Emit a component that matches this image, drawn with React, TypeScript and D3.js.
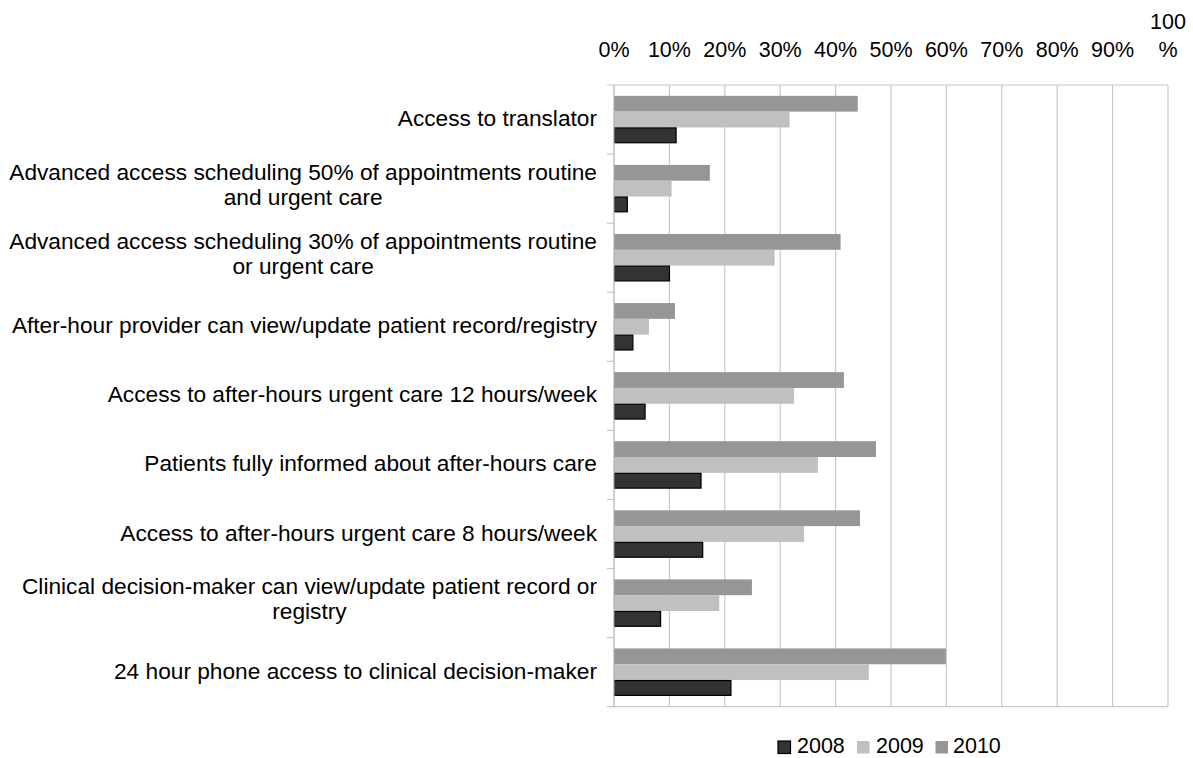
import React, { useEffect, useRef } from "react";
import * as d3 from "d3";

const categories = [
  "Access to translator",
  "Advanced access scheduling 50% of appointments routine and urgent care",
  "Advanced access scheduling 30% of appointments routine or urgent care",
  "After-hour provider can view/update patient record/registry",
  "Access to after-hours urgent care 12 hours/week",
  "Patients fully informed about after-hours care",
  "Access to after-hours urgent care 8 hours/week",
  "Clinical decision-maker can view/update patient record or registry",
  "24 hour phone access to clinical decision-maker",
];
const seriesNames = ["2008", "2009", "2010"];
const values2008 = [11.3, 2.5, 10.1, 3.5, 5.7, 15.8, 16.1, 8.5, 21.2];
const values2009 = [31.7, 10.4, 29.0, 6.3, 32.5, 36.8, 34.3, 19.0, 46.0];
const values2010 = [44.0, 17.3, 40.9, 11.0, 41.5, 47.3, 44.4, 24.9, 59.9];
const seriesColors = ["#333333", "#c0c0c0", "#969696"];
const tickValues = [0, 10, 20, 30, 40, 50, 60, 70, 80, 90, 100];
const tickLabels = ["0%", "10%", "20%", "30%", "40%", "50%", "60%", "70%", "80%", "90%", "100%"];

const W = 1193;
const H = 758;
const FONT = "'Liberation Sans', Arial, sans-serif";
const FS = 21.5;
const FS_CAT = 22.7;

export default function App() {
  const ref = useRef<SVGSVGElement | null>(null);

  useEffect(() => {
    const svg = d3.select(ref.current);
    svg.selectAll("*").remove();

    const left = 614, right = 1168, top = 85, bottom = 706.7;
    const x = d3.scaleLinear().domain([0, 100]).range([left, right]);
    const y = d3.scaleBand<string>().domain(categories).range([top, bottom]).paddingInner(0).paddingOuter(0);
    const order = ["2010", "2009", "2008"];
    const y1 = d3.scaleBand<string>().domain(order).range([0, y.bandwidth()]).paddingInner(0).paddingOuter(0.685);
    const valuesBySeries: Record<string, number[]> = { "2008": values2008, "2009": values2009, "2010": values2010 };

    const g = svg.append("g");

    // gridlines
    g.selectAll("line.grid")
      .data(tickValues.slice(1))
      .join("line")
      .attr("x1", (d) => x(d)).attr("x2", (d) => x(d))
      .attr("y1", top).attr("y2", bottom)
      .attr("stroke", "#c8c8c8").attr("stroke-width", 1.2);

    // top axis line & bottom line
    g.append("line").attr("x1", left - 7).attr("x2", right).attr("y1", top).attr("y2", top)
      .attr("stroke", "#c8c8c8").attr("stroke-width", 1.2);
    g.append("line").attr("x1", left - 7).attr("x2", right).attr("y1", bottom).attr("y2", bottom)
      .attr("stroke", "#c8c8c8").attr("stroke-width", 1.2);

    // category tick marks
    const boundaries = categories.map((c) => (y(c) as number)).slice(1);
    g.selectAll("line.ctick")
      .data(boundaries)
      .join("line")
      .attr("x1", left - 7).attr("x2", left)
      .attr("y1", (d) => d).attr("y2", (d) => d)
      .attr("stroke", "#c8c8c8").attr("stroke-width", 1.2);

    // bars
    categories.forEach((c, i) => {
      order.forEach((s) => {
        const v = valuesBySeries[s][i];
        const si = seriesNames.indexOf(s);
        const by = (y(c) as number) + (y1(s) as number);
        const r = g.append("rect")
          .attr("x", x(0))
          .attr("y", by)
          .attr("width", x(v) - x(0))
          .attr("height", y1.bandwidth())
          .attr("fill", seriesColors[si]);
        if (s === "2008") {
          r.attr("x", x(0) + 0.5).attr("y", by + 0.5).attr("width", x(v) - x(0) - 1)
            .attr("height", y1.bandwidth() - 1).attr("stroke", "#000").attr("stroke-width", 1.2);
        }
      });
    });

    // left axis line
    g.append("line").attr("x1", left).attr("x2", left).attr("y1", top).attr("y2", bottom)
      .attr("stroke", "#b0b0b0").attr("stroke-width", 1.2);

    // top tick labels
    const spacing = x(10) - x(0);
    tickValues.forEach((t, i) => {
      const lab = tickLabels[i];
      const tx = g.append("text").attr("x", x(t)).attr("y", 57)
        .attr("text-anchor", "middle").attr("font-family", FONT).attr("font-size", FS).attr("fill", "#000")
        .text(lab);
      const w = (tx.node() as SVGTextElement).getComputedTextLength();
      if (w > spacing * 0.92) {
        tx.text("%");
        g.append("text").attr("x", x(t)).attr("y", 29)
          .attr("text-anchor", "middle").attr("font-family", FONT).attr("font-size", FS).attr("fill", "#000")
          .text(lab.replace("%", ""));
      }
    });

    // category labels with wrapping
    const labelRight = 597;
    const maxW = 600;
    const measure = g.append("text").attr("font-family", FONT).attr("font-size", FS_CAT);
    const mw = (s: string) => {
      measure.text(s);
      return (measure.node() as SVGTextElement).getComputedTextLength();
    };
    categories.forEach((c) => {
      const words = c.split(" ");
      const lines: string[] = [];
      let cur = "";
      words.forEach((w) => {
        const trial = cur ? cur + " " + w : w;
        if (mw(trial) > maxW && cur) {
          lines.push(cur);
          cur = w;
        } else cur = trial;
      });
      if (cur) lines.push(cur);
      const cy = (y(c) as number) + y.bandwidth() / 2;
      if (lines.length === 1) {
        g.append("text").attr("x", labelRight).attr("y", cy + 6.5)
          .attr("text-anchor", "end").attr("font-family", FONT).attr("font-size", FS_CAT).attr("fill", "#000")
          .text(lines[0]);
      } else {
        const widths = lines.map(mw);
        const maxLine = Math.max(...widths);
        const cx = labelRight - maxLine / 2;
        lines.forEach((ln, k) => {
          g.append("text").attr("x", cx).attr("y", cy - 9 + k * 25)
            .attr("text-anchor", "middle").attr("font-family", FONT).attr("font-size", FS_CAT).attr("fill", "#000")
            .text(ln);
        });
      }
    });
    measure.remove();

    // legend
    const legendItems = [
      { name: "2008", sx: 778, tx: 797 },
      { name: "2009", sx: 857, tx: 876 },
      { name: "2010", sx: 935.5, tx: 953 },
    ];
    legendItems.forEach((it) => {
      const si = seriesNames.indexOf(it.name);
      const r = g.append("rect").attr("x", it.sx).attr("y", 741).attr("width", 12.5).attr("height", 12.5)
        .attr("fill", seriesColors[si]);
      if (it.name === "2008") r.attr("stroke", "#000").attr("stroke-width", 1.2);
      g.append("text").attr("x", it.tx).attr("y", 753).attr("font-family", FONT).attr("font-size", FS)
        .attr("fill", "#000").text(it.name);
    });
  }, []);

  return (
    <svg
      ref={ref}
      width={W}
      height={H}
      style={{ position: "absolute", left: 0, top: 0, background: "#fff" }}
    />
  );
}
